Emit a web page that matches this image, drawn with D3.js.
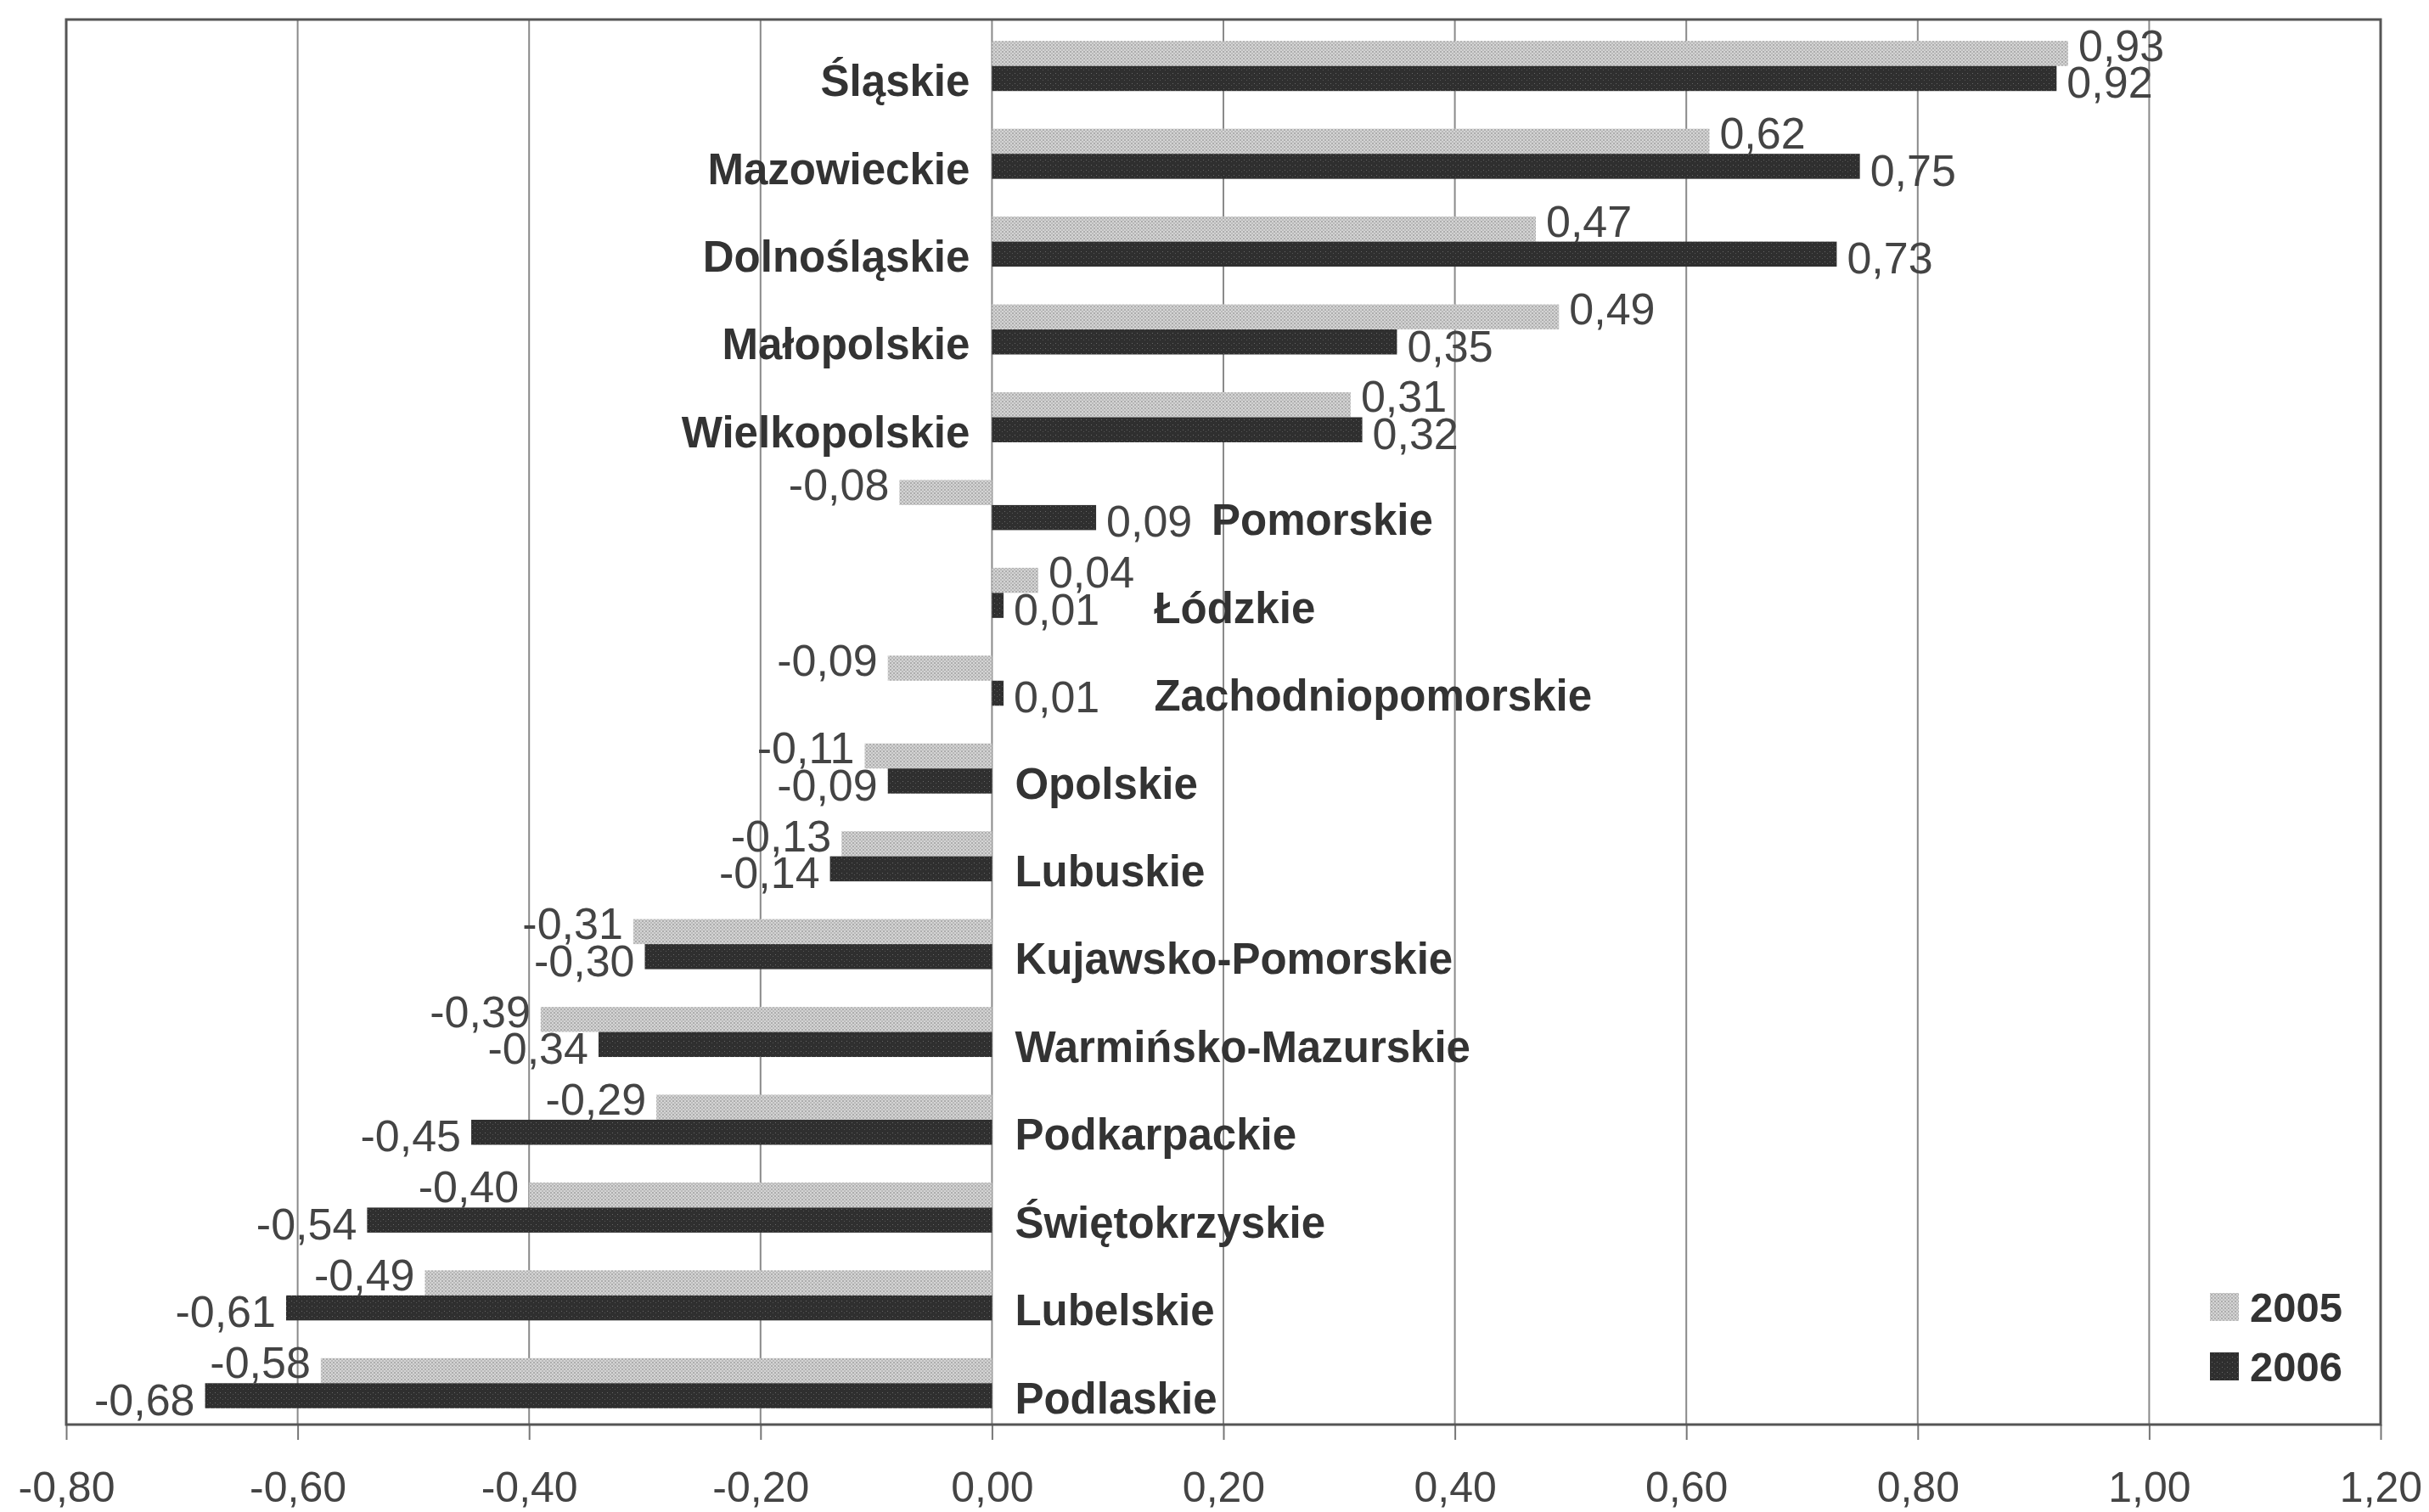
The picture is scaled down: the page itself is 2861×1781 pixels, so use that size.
<!DOCTYPE html>
<html>
<head>
<meta charset="utf-8">
<script src="https://cdn.jsdelivr.net/npm/d3@7"></script>
<style>
  html, body { margin: 0; padding: 0; background: #fff; }
  svg { display: block; }
</style>
</head>
<body>
<svg id="chart" width="2861" height="1781"></svg>
<script>
const categories = ["Śląskie","Mazowieckie","Dolnośląskie","Małopolskie","Wielkopolskie","Pomorskie","Łódzkie","Zachodniopomorskie","Opolskie","Lubuskie","Kujawsko-Pomorskie","Warmińsko-Mazurskie","Podkarpackie","Świętokrzyskie","Lubelskie","Podlaskie"];
const values2005 = [0.93,0.62,0.47,0.49,0.31,-0.08,0.04,-0.09,-0.11,-0.13,-0.31,-0.39,-0.29,-0.40,-0.49,-0.58];
const values2006 = [0.92,0.75,0.73,0.35,0.32,0.09,0.01,0.01,-0.09,-0.14,-0.30,-0.34,-0.45,-0.54,-0.61,-0.68];
const seriesNames = ["2005","2006"];
const xTicks = [-0.8,-0.6,-0.4,-0.2,0,0.2,0.4,0.6,0.8,1.0,1.2];

(function () {
const FONT = "'Liberation Sans', Arial, sans-serif";
const svg = d3.select("#chart");

const pL = 78, pR = 2804, pT = 23, pB = 1678;
const x = d3.scaleLinear().domain([-0.8, 1.2]).range([pL, pR]);
const y = d3.scaleBand().domain(categories).range([pT, pB]);
const barH = 29.5;
const fmt = v => v.toFixed(2).replace(".", ",");

// textures
const defs = svg.append("defs");
const p1 = defs.append("pattern").attr("id","pat2005").attr("patternUnits","userSpaceOnUse").attr("width",4).attr("height",4);
p1.append("rect").attr("width",4).attr("height",4).attr("fill","#d4d4d4");
p1.append("rect").attr("x",0).attr("y",0).attr("width",2).attr("height",2).attr("fill","#adadad");
p1.append("rect").attr("x",2).attr("y",2).attr("width",2).attr("height",2).attr("fill","#bababa");
const p2 = defs.append("pattern").attr("id","pat2006").attr("patternUnits","userSpaceOnUse").attr("width",6).attr("height",6);
p2.append("rect").attr("width",6).attr("height",6).attr("fill","#2f2f2f");
p2.append("rect").attr("x",1).attr("y",2).attr("width",1).attr("height",1).attr("fill","#666");
p2.append("rect").attr("x",4).attr("y",4).attr("width",1).attr("height",1).attr("fill","#555");

// gridlines
svg.append("g").selectAll("line").data(xTicks).join("line")
  .attr("x1", d => x(d)).attr("x2", d => x(d))
  .attr("y1", pT).attr("y2", pB)
  .attr("stroke", "#8a8a8a").attr("stroke-width", 2);

// axis
const axis = d3.axisBottom(x).tickValues(xTicks).tickFormat(fmt).tickSize(18).tickPadding(37);
const ax = svg.append("g").attr("transform", `translate(0,${pB})`).call(axis);
ax.select(".domain").remove();
ax.selectAll(".tick line").attr("stroke", "#777").attr("stroke-width", 2);
ax.selectAll(".tick text").attr("font-family", FONT).attr("font-size", 50).attr("fill", "#444");

// frame
svg.append("rect").attr("x", pL).attr("y", pT).attr("width", pR - pL).attr("height", pB - pT)
  .attr("fill", "none").attr("stroke", "#555").attr("stroke-width", 3);

const series = [values2005, values2006];
const gBars = svg.append("g");
const gLabels = svg.append("g");
const center = c => y(c) + y.bandwidth() / 2 + 3;

series.forEach((vals, s) => {
  const data = categories.map((c, i) => ({c, v: vals[i]}));
  gBars.selectAll(null).data(data).join("rect")
    .attr("x", d => Math.min(x(0), x(d.v)))
    .attr("width", d => Math.max(3, Math.abs(x(d.v) - x(0))))
    .attr("y", d => center(d.c) - (s === 0 ? barH : 0))
    .attr("height", barH)
    .attr("fill", s === 0 ? "url(#pat2005)" : "url(#pat2006)");
  gLabels.selectAll(null).data(data).join("text")
    .attr("x", d => d.v >= 0 ? Math.max(x(d.v), x(0) + 3) + 12 : x(d.v) - 12)
    .attr("y", d => center(d.c) + (s === 0 ? -barH / 2 - 10 : barH / 2 + 4))
    .attr("dy", "0.36em")
    .attr("text-anchor", d => d.v >= 0 ? "start" : "end")
    .attr("font-family", FONT).attr("font-size", 52).attr("fill", "#444")
    .text(d => fmt(d.v));
});

// category labels
const labelW = 100;
categories.forEach((c, i) => {
  const a = values2005[i], b = values2006[i];
  const mx = Math.max(a, b);
  let xx, anchor;
  if (Math.min(a, b) >= 0 && mx >= 0.2) { xx = x(0) - 26; anchor = "end"; }
  else if (mx <= 0) { xx = x(0) + 27; anchor = "start"; }
  else { xx = Math.max(x(0) + 191, x(mx) + 12 + labelW + 24); anchor = "start"; }
  svg.append("text")
    .attr("x", xx).attr("y", center(c) + 17).attr("dy", "0.36em")
    .attr("text-anchor", anchor)
    .attr("font-family", FONT).attr("font-weight", "bold").attr("font-size", 51).attr("fill", "#333")
    .text(c);
});

// legend
const lg = svg.append("g");
seriesNames.forEach((n, s) => {
  const yy = s === 0 ? 1523 : 1593;
  lg.append("rect").attr("x", 2603).attr("y", yy).attr("width", 34).attr("height", 33)
    .attr("fill", s === 0 ? "url(#pat2005)" : "url(#pat2006)");
  lg.append("text").attr("x", 2650).attr("y", yy + 34)
    .attr("font-family", FONT).attr("font-weight", "bold").attr("font-size", 49).attr("fill", "#333")
    .text(n);
});
})();
</script>
</body>
</html>
